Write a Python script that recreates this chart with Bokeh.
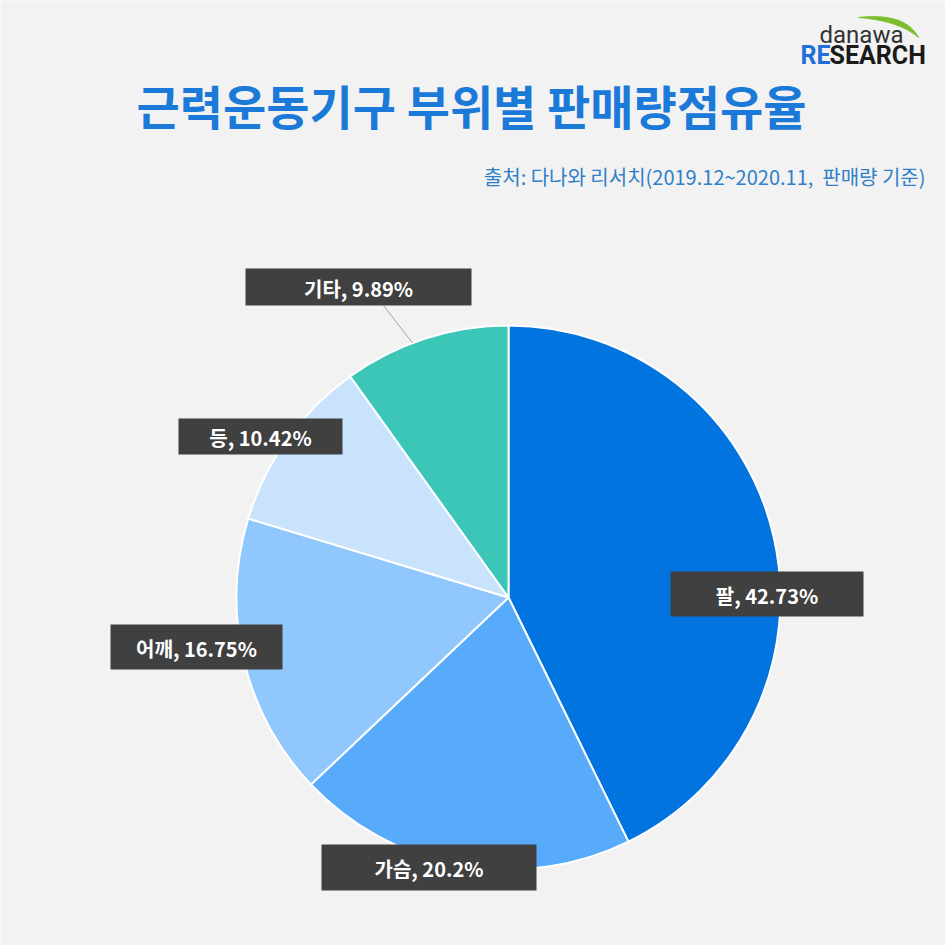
import numpy as np
from bokeh.plotting import figure
from bokeh.models import Range1d, ColumnDataSource
from bokeh.core.properties import value
from bokeh.embed import file_html
from bokeh.resources import INLINE

# ---- data ----
categories = ["팔", "가슴", "어깨", "등", "기타"]
shares = [42.73, 20.2, 16.75, 10.42, 9.89]
colors = ["#0174E0", "#58ABFB", "#90C8FD", "#C9E3FC", "#3CC6B8"]
label_texts = [f"{c}, {v:g}%" for c, v in zip(categories, shares)]

title = "근력운동기구 부위별 판매량점유율"
subtitle = "출처: 다나와 리서치(2019.12~2020.11,\u00a0 판매량 기준)"

# ---- layout (screen pixel coordinates, y downward) ----
W = H = 945
CX, CY, R = 508, 597, 272
label_boxes = [  # x0, x1, y0, y1 of label boxes
    (670, 863, 571, 616),
    (321, 536, 844, 890),
    (110, 282, 624, 669),
    (178, 342, 418, 454),
    (245, 471, 268, 305),
]

def Y(y):
    return H - y

p = figure(width=W, height=H, x_range=Range1d(0, W), y_range=Range1d(0, H),
           output_backend="svg", toolbar_location=None, min_border=0,
           background_fill_color="#F2F2F2", border_fill_color="#F2F2F2",
           outline_line_color=None)
p.axis.visible = False
p.grid.visible = False

# ---- pie ----
vals = np.array(shares)
frac = vals / vals.sum()
cum = np.concatenate([[0], np.cumsum(frac)])
start = np.pi / 2 - 2 * np.pi * cum[:-1]
end = np.pi / 2 - 2 * np.pi * cum[1:]
src = ColumnDataSource(dict(x=[CX] * len(vals), y=[Y(CY)] * len(vals),
                            start=start, end=end, color=colors))
p.wedge(x="x", y="y", radius=R, start_angle="start", end_angle="end",
        direction="clock", fill_color="color", line_color="white",
        line_width=2, source=src)

# leader line for 기타
i = 4
mid = (cum[i] + cum[i + 1]) / 2 * 2 * np.pi
ex, ey = CX + R * np.sin(mid - 0.05), CY - R * np.cos(mid - 0.05)
x0, x1, y0, y1 = label_boxes[i]
p.line([383, ex], [Y(y1), Y(ey)], line_color="#A6A6A6", line_width=1)

# ---- label boxes ----
bx = [(b[0] + b[1]) / 2 for b in label_boxes]
by = [Y((b[2] + b[3]) / 2) for b in label_boxes]
bw = [b[1] - b[0] for b in label_boxes]
bh = [b[3] - b[2] for b in label_boxes]
p.rect(x=bx, y=by, width=bw, height=bh, fill_color="#404040", line_color=None)
p.text(x=bx, y=[v - 1 for v in by], text=label_texts, text_color="white",
       text_font=value("Noto Sans CJK KR"), text_font_style="bold",
       text_font_size="20px", text_align="center", text_baseline="middle")

# ---- title & subtitle ----
p.text(x=[471], y=[Y(104)], text=[title], text_color="#1B7AD8",
       text_font=value("Noto Sans CJK KR"), text_font_style="bold",
       text_font_size="47px", text_align="center", text_baseline="middle")
p.text(x=[925], y=[Y(176)], text=[subtitle], text_color="#2F80C8",
       text_font=value("Noto Sans CJK KR"), text_font_size="20px",
       text_align="right", text_baseline="middle")

# ---- logo ----
t = np.linspace(0, 1, 30)
def qb(p0, p1, p2):
    return ((1 - t) ** 2)[:, None] * p0 + (2 * (1 - t) * t)[:, None] * p1 + (t ** 2)[:, None] * p2
outer = qb(np.array([858, 17]), np.array([905, 12]), np.array([918, 37]))
inner = qb(np.array([918, 37]), np.array([898, 20]), np.array([858, 17]))
sw = np.vstack([outer, inner])
p.patch(sw[:, 0], [Y(v) for v in sw[:, 1]], fill_color="#7DBE2E", line_color="#7DBE2E")
p.text(x=[861], y=[Y(34)], text=["danawa"], text_color="#333333",
       text_font=value("Roboto"), text_font_size="24px",
       text_align="center", text_baseline="middle")
logo_font = value("Roboto")
p.text(x=[800], y=[Y(55)], text=["RE"], text_color="#1E6FD9",
       text_font=logo_font, text_font_style="bold", text_font_size="25px",
       text_align="left", text_baseline="middle")
p.text(x=[829], y=[Y(55)], text=["SEARCH"], text_color="#1A1A1A",
       text_font=logo_font, text_font_style="bold", text_font_size="25px",
       text_align="left", text_baseline="middle")

open("out.html", "w").write(file_html(p, INLINE))
